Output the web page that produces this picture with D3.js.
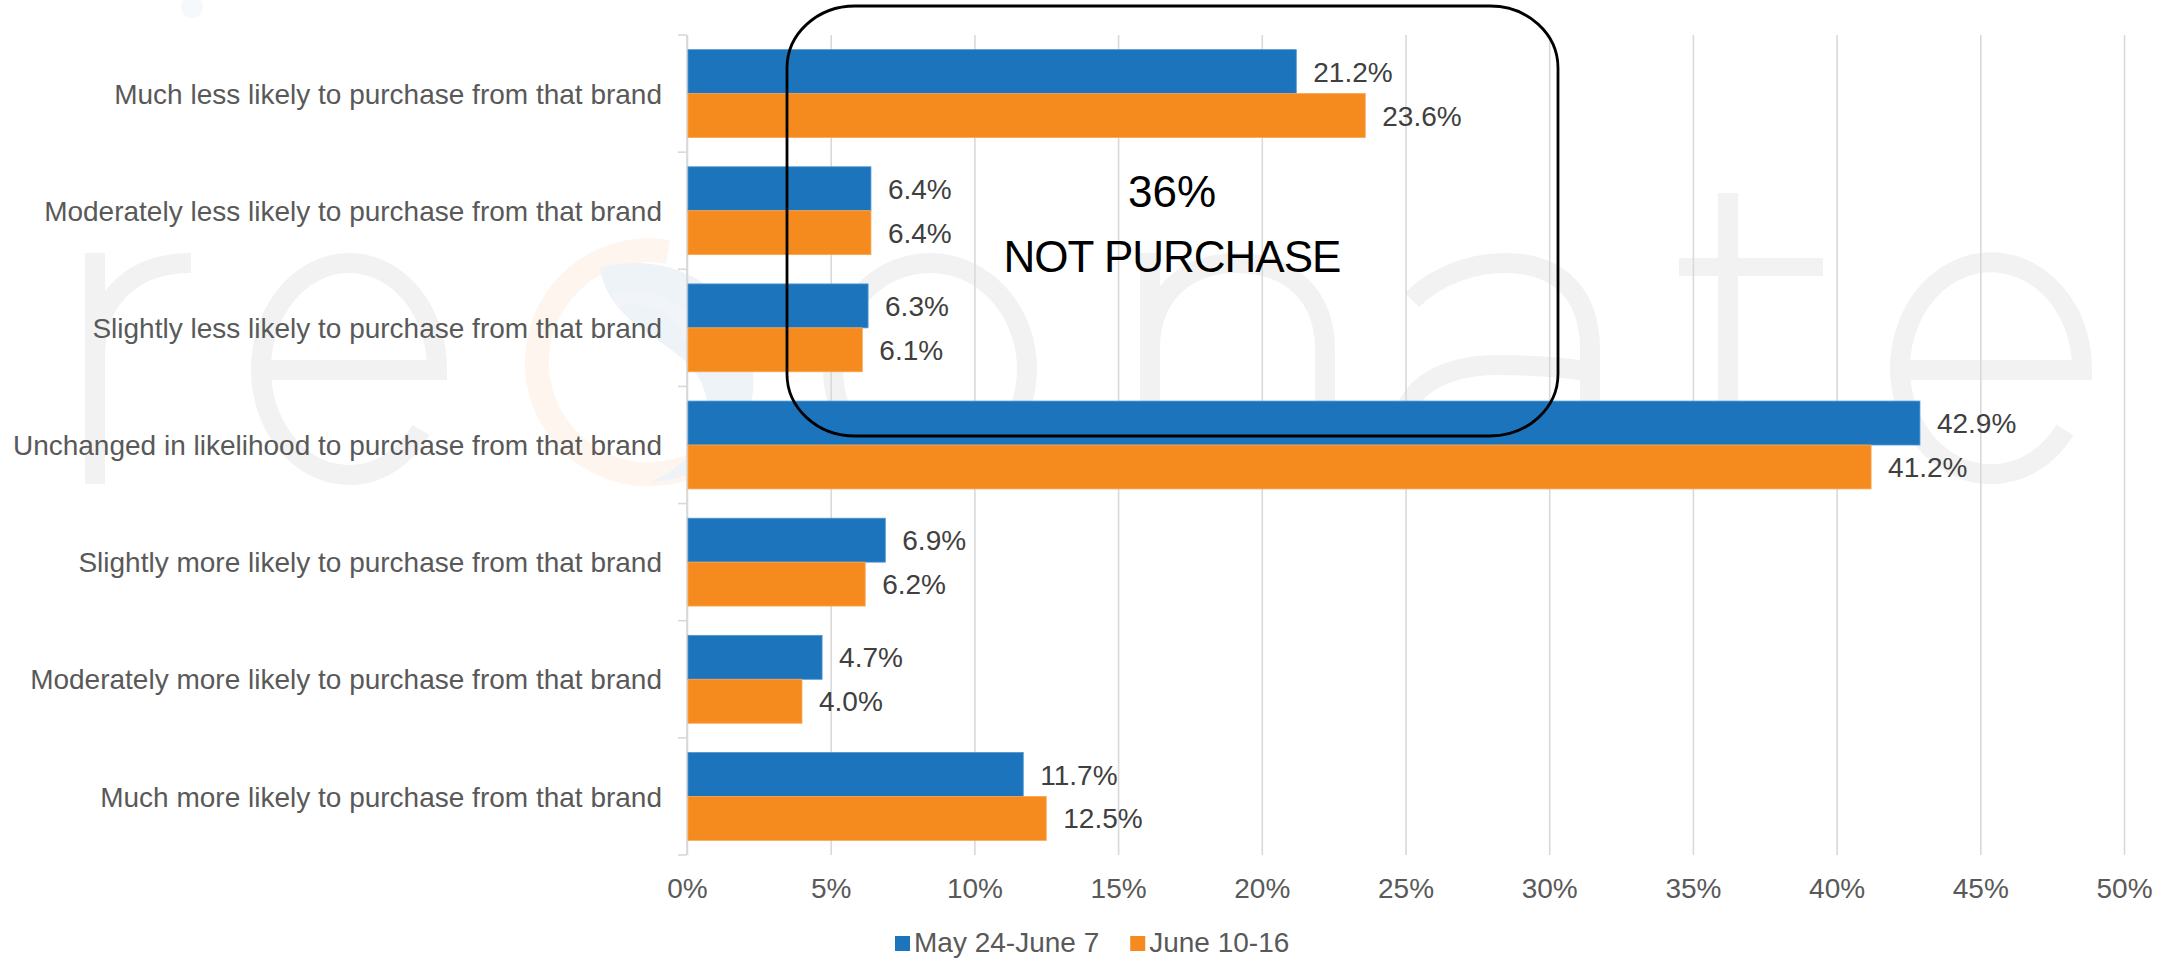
<!DOCTYPE html>
<html>
<head>
<meta charset="utf-8">
<script src="https://cdn.jsdelivr.net/npm/d3@7"></script>
<style>
  html, body { margin: 0; padding: 0; background: #fff; }
  svg { display: block; }
  text { font-family: "Liberation Sans", Arial, Helvetica, sans-serif; }
</style>
</head>
<body>
<svg id="chart" width="2177" height="958"></svg>
<script>
// Purchase likelihood by survey wave
const categories = [
  "Much less likely to purchase from that brand",
  "Moderately less likely to purchase from that brand",
  "Slightly less likely to purchase from that brand",
  "Unchanged in likelihood to purchase from that brand",
  "Slightly more likely to purchase from that brand",
  "Moderately more likely to purchase from that brand",
  "Much more likely to purchase from that brand"
];
const seriesNames = ["May 24-June 7", "June 10-16"];
const mayJune = [21.2, 6.4, 6.3, 42.9, 6.9, 4.7, 11.7];
const juneWave = [23.6, 6.4, 6.1, 41.2, 6.2, 4.0, 12.5];
const seriesColors = ["#1C75BC", "#F58B1F"];
const seriesEdge = ["#4F95CF", "#F8A650"];
const xTicks = [0, 5, 10, 15, 20, 25, 30, 35, 40, 45, 50];
const calloutLines = ["36%", "NOT PURCHASE"];

const W = 2177, H = 958;
const svg = d3.select("#chart");

// ---- faint "resonate" watermark drawn behind the chart ----
const wm = svg.append("g")
  .attr("fill", "none")
  .attr("stroke", "#F2F2F2")
  .attr("stroke-width", 20);
// r
wm.append("path").attr("d", "M95,484 V253 M95,352 C98,292 138,263 191,263");
// e
wm.append("path").attr("d", "M261,370 H437 A88 106 0 1 0 421,430");
// o
wm.append("ellipse").attr("cx", 930).attr("cy", 369).attr("rx", 97).attr("ry", 106);
// n
wm.append("path").attr("d", "M1150,484 V253 M1150,345 C1152,290 1190,263 1237,263 C1290,263 1325,295 1325,350 V484");
// a
wm.append("path").attr("d", "M1412,300 C1440,272 1478,263 1505,263 C1560,263 1590,295 1590,350 V484");
wm.append("path").attr("d", "M1590,372 C1560,366 1530,365 1497,365 C1445,365 1405,388 1405,420 C1405,452 1445,474 1497,474 C1545,474 1580,452 1590,425");
// t
wm.append("path").attr("d", "M1728,193 V484");
wm.append("path").attr("d", "M1679,267 H1823").attr("stroke-width", 18);
// e
wm.append("path").attr("d", "M1900,370 H2082 A91 106 0 1 0 2065,430");

// logo mark in place of the "s"
const logo = svg.append("g");
logo.append("path")
  .attr("d", "M668,252 A112 112 0 1 0 700,462")
  .attr("fill", "none").attr("stroke", "#FEF5EE").attr("stroke-width", 24);
logo.append("path")
  .attr("d", "M600,268 C660,250 740,280 752,360 C762,430 720,478 650,482 C700,460 720,420 700,380 C680,340 610,330 600,268 Z")
  .attr("fill", "#EEF3F8");
logo.append("path")
  .attr("d", "M615,300 C650,290 690,310 690,340")
  .attr("fill", "none").attr("stroke", "#F1F5F9").attr("stroke-width", 14);
svg.append("circle").attr("cx", 192).attr("cy", 7).attr("r", 11).attr("fill", "#F5F9FC");

// ---- scales ----
const x = d3.scaleLinear().domain([0, 50]).range([687, 2124]);
const y = d3.scaleBand().domain(categories).range([35, 855])
  .paddingInner(0.25).paddingOuter(0.125);
const ySub = d3.scaleBand().domain(seriesNames).range([0, y.bandwidth()]);

// ---- value axis with vertical gridlines ----
const xAxis = svg.append("g")
  .attr("transform", `translate(0,${y.range()[1]})`)
  .call(d3.axisBottom(x)
    .tickValues(xTicks)
    .tickSize(-(y.range()[1] - y.range()[0]))
    .tickPadding(23)
    .tickFormat(d => d + "%"));
xAxis.select(".domain").remove();
xAxis.selectAll(".tick line").attr("stroke", "#D9D9D9").attr("stroke-width", 1.6);
xAxis.selectAll(".tick text")
  .attr("fill", "#595959").attr("font-size", 28)
  .style("font-family", "'Liberation Sans', Arial, sans-serif");

// ---- category axis: line plus boundary ticks ----
const step = y.step();
const firstEdge = y(categories[0]) - y.paddingOuter() * step;
const catAxis = svg.append("g").attr("stroke", "#D9D9D9").attr("stroke-width", 1.6);
catAxis.append("line")
  .attr("x1", x(0)).attr("x2", x(0))
  .attr("y1", y.range()[0]).attr("y2", y.range()[1]);
catAxis.selectAll("line.edge")
  .data(d3.range(categories.length + 1))
  .join("line").attr("class", "edge")
  .attr("x1", x(0) - 9).attr("x2", x(0))
  .attr("y1", i => firstEdge + i * step)
  .attr("y2", i => firstEdge + i * step);

const yAxis = svg.append("g")
  .attr("transform", `translate(${x(0)},0)`)
  .call(d3.axisLeft(y).tickSize(0).tickPadding(25));
yAxis.select(".domain").remove();
yAxis.selectAll(".tick text")
  .attr("fill", "#595959").attr("font-size", 28).attr("dy", "0.36em")
  .style("font-family", "'Liberation Sans', Arial, sans-serif");

// ---- bars ----
const rows = categories.map((c, i) => ({
  category: c,
  values: [
    { series: seriesNames[0], value: mayJune[i], k: 0 },
    { series: seriesNames[1], value: juneWave[i], k: 1 }
  ]
}));

const groups = svg.append("g").selectAll("g")
  .data(rows).join("g")
  .attr("transform", d => `translate(0,${y(d.category)})`);

groups.selectAll("rect")
  .data(d => d.values).join("rect")
  .attr("x", x(0) + 1)
  .attr("y", d => ySub(d.series))
  .attr("width", d => x(d.value) - x(0) - 1)
  .attr("height", ySub.bandwidth())
  .attr("fill", d => seriesColors[d.k])
  .attr("stroke", d => seriesEdge[d.k])
  .attr("stroke-width", 0.8);

groups.selectAll("text")
  .data(d => d.values).join("text")
  .attr("x", d => x(d.value) + 17)
  .attr("y", d => ySub(d.series) + ySub.bandwidth() / 2)
  .attr("dy", "0.36em")
  .attr("font-size", 28)
  .attr("fill", "#404040")
  .text(d => d.value.toFixed(1) + "%");

// ---- callout box over the "less likely" rows ----
svg.append("rect")
  .attr("x", 787).attr("y", 6)
  .attr("width", 771).attr("height", 430)
  .attr("rx", 68).attr("ry", 62)
  .attr("fill", "none").attr("stroke", "#000").attr("stroke-width", 2.8);

svg.append("g").selectAll("text")
  .data(calloutLines).join("text")
  .attr("x", 1172)
  .attr("y", (d, i) => 207 + i * 65)
  .attr("text-anchor", "middle")
  .attr("font-size", 44)
  .attr("letter-spacing", (d, i) => i ? "-1px" : "0px")
  .attr("fill", "#000")
  .text(d => d);

// ---- legend ----
const legend = svg.append("g");
let lx = 895;
seriesNames.forEach((name, i) => {
  legend.append("rect")
    .attr("x", lx).attr("y", 936)
    .attr("width", 15).attr("height", 15)
    .attr("fill", seriesColors[i]);
  const t = legend.append("text")
    .attr("x", lx + 19).attr("y", 952)
    .attr("font-size", 28).attr("fill", "#595959")
    .text(name);
  lx = lx + 19 + t.node().getComputedTextLength() + 31;
});
</script>
</body>
</html>
